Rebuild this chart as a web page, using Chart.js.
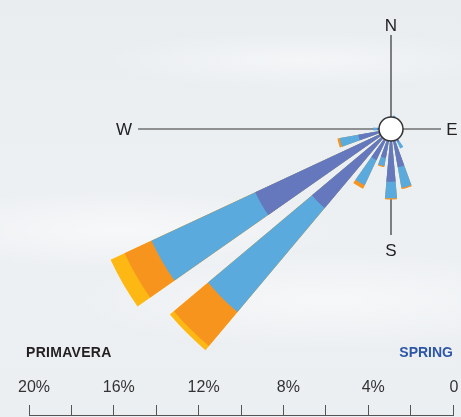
<!DOCTYPE html>
<html>
<head>
<meta charset="utf-8">
<script src="https://cdn.jsdelivr.net/npm/chart.js@4.4.1/dist/chart.umd.min.js"></script>
<style>
  html, body { margin: 0; padding: 0; }
  body {
    width: 461px; height: 417px; overflow: hidden; position: relative;
    font-family: "Liberation Sans", Arial, sans-serif;
    background:
      radial-gradient(ellipse 220px 40px at 120px 230px, rgba(255,255,255,0.55), rgba(255,255,255,0) 100%),
      radial-gradient(ellipse 260px 50px at 330px 300px, rgba(255,255,255,0.5), rgba(255,255,255,0) 100%),
      radial-gradient(ellipse 200px 30px at 300px 60px, rgba(255,255,255,0.45), rgba(255,255,255,0) 100%),
      linear-gradient(180deg, #e9edf0 0%, #edf0f3 45%, #eceff2 100%);
  }
  #rose { position: absolute; left: 51px; top: -211px; }
  #scale { position: absolute; left: 0; top: 375px; }
  .season { position: absolute; top: 345px; font-size: 14px; line-height: 14px; font-weight: bold; }
</style>
</head>
<body>
<canvas id="rose" width="680" height="680"></canvas>
<canvas id="scale" width="490" height="80"></canvas>
<div class="season" style="left:26px;color:#231f20;letter-spacing:0.3px;">PRIMAVERA</div>
<div class="season" style="right:8px;color:#2d56a6;">SPRING</div>
<script>
// wind directions, 15 degree steps clockwise from north
var directions = ['0°','15°','30°','45°','60°','75°','90°','105°','120°','135°','150°','165°',
                  '180°','195°','210°','225°','240°','255°','270°','285°','300°','315°','330°','345°'];

// frequency (%) of each speed class per direction
var lightWind    = [0, 0.02, 0, 0, 0, 0, 0, 0, 0, 0, 0.12, 1.26, 1.92, 0.82, 1.05, 4.3, 6.5, 1.0, 0.1, 0, 0, 0, 0, 0];
var moderateWind = [0, 0.06, 0, 0, 0, 0, 0, 0, 0, 0, 0.33, 0.99, 0.78, 0.39, 1.31, 6.4, 5.4, 0.89, 0.17, 0, 0, 0, 0, 0];
var freshWind    = [0, 0, 0, 0, 0, 0, 0, 0, 0, 0, 0, 0.06, 0.06, 0.05, 0.18, 2.1, 1.4, 0.11, 0, 0, 0, 0, 0, 0];
var strongWind   = [0, 0, 0, 0, 0, 0, 0, 0, 0, 0, 0, 0, 0, 0, 0, 0.25, 0.73, 0, 0, 0, 0, 0, 0, 0];

// distance scale labels (%)
var scaleTicks = [20, 16, 12, 8, 4, 0];

var colors = ['#6577bd', '#5aaadd', '#f7941e', '#fdb813'];
var PX_PER_PCT = 21.2, CALM_R = 12, BAR_DEG = 10, GAP_DEG = 5;
var rMin = -CALM_R / PX_PER_PCT;

// every direction gets a bar slot followed by an empty gap slot
var labels = [];
directions.forEach(function(d){ labels.push(d, ''); });

var running = directions.map(function(){ return 0; });
var datasets = [lightWind, moderateWind, freshWind, strongWind].map(function(vals, s){
  var data = [];
  vals.forEach(function(v, i){
    running[i] += v;
    data.push(v > 0 ? running[i] : rMin, rMin);
  });
  return {
    data: data,
    backgroundColor: colors[s],
    borderWidth: 0,
    angle: function(ctx){ return ctx.dataIndex % 2 ? GAP_DEG : BAR_DEG; }
  };
});

var compass = {
  id: 'compass',
  beforeDatasetsDraw: function(chart){
    var s = chart.scales.r, ctx = chart.ctx, x = s.xCenter, y = s.yCenter;
    ctx.save();
    ctx.strokeStyle = '#333';
    ctx.lineWidth = 1.2;
    ctx.beginPath();
    ctx.moveTo(x - 253, y); ctx.lineTo(x + 50, y);
    ctx.moveTo(x, y - 94); ctx.lineTo(x, y + 106);
    ctx.stroke();
    ctx.restore();
  },
  afterDatasetsDraw: function(chart){
    var s = chart.scales.r, ctx = chart.ctx, x = s.xCenter, y = s.yCenter;
    ctx.save();
    ctx.beginPath();
    ctx.arc(x, y, CALM_R, 0, Math.PI * 2);
    ctx.fillStyle = '#fff';
    ctx.fill();
    ctx.strokeStyle = '#333';
    ctx.lineWidth = 1.5;
    ctx.stroke();
    ctx.fillStyle = '#222';
    ctx.font = '17px "Liberation Sans", Arial, sans-serif';
    ctx.textAlign = 'center';
    ctx.textBaseline = 'alphabetic';
    ctx.fillText('N', x, y - 98);
    ctx.fillText('S', x, y + 127);
    ctx.fillText('W', x - 267, y + 6);
    ctx.fillText('E', x + 61, y + 6);
    ctx.restore();
  }
};

new Chart(document.getElementById('rose'), {
  type: 'polarArea',
  data: { labels: labels, datasets: datasets },
  options: {
    responsive: false,
    animation: false,
    events: [],
    layout: { padding: 0 },
    plugins: { legend: { display: false }, tooltip: { enabled: false } },
    scales: {
      r: {
        display: false,
        min: rMin,
        max: rMin + 340 / PX_PER_PCT,
        startAngle: -BAR_DEG / 2
      }
    }
  },
  plugins: [compass]
});

new Chart(document.getElementById('scale'), {
  type: 'scatter',
  data: { datasets: [{ data: [] }] },
  options: {
    responsive: false,
    animation: false,
    events: [],
    layout: { padding: { left: 29, right: 37, top: 0, bottom: 0 } },
    plugins: { legend: { display: false }, tooltip: { enabled: false } },
    scales: {
      x: {
        type: 'linear',
        position: 'top',
        reverse: true,
        min: 0,
        max: 20,
        grid: { drawOnChartArea: false, tickLength: 10, color: '#555', lineWidth: 1 },
        border: { color: '#555', width: 1 },
        ticks: {
          stepSize: 2,
          autoSkip: false,
          maxRotation: 0,
          padding: 8,
          labelOffset: 5,
          color: '#333',
          font: { family: '"Liberation Sans", Arial, sans-serif', size: 16 },
          callback: function(v){
            if (scaleTicks.indexOf(v) < 0) return '';
            return v === 0 ? '0\u2002' : v + '%';
          }
        }
      },
      y: { display: false }
    }
  }
});
</script>
</body>
</html>
